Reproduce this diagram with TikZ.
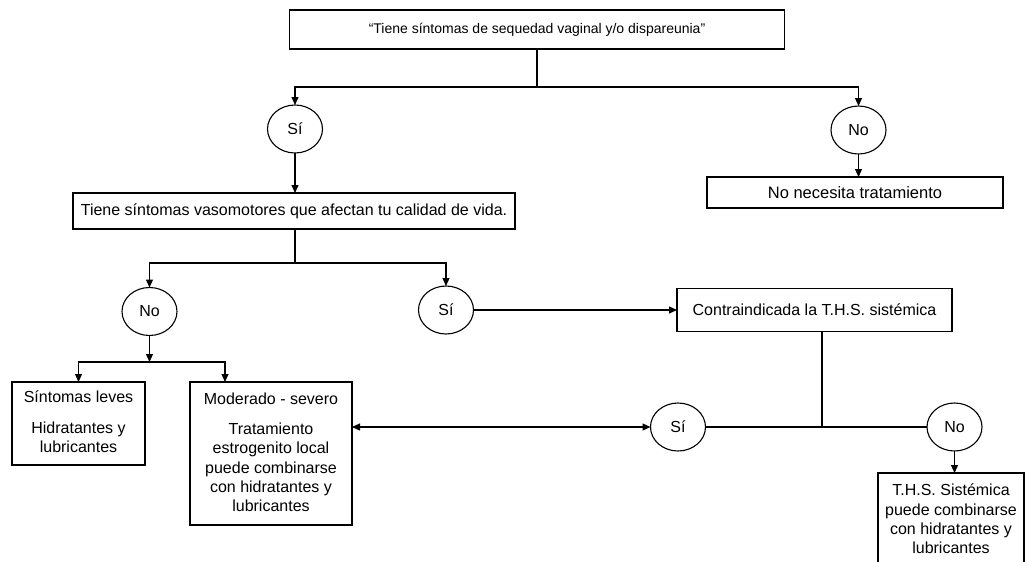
\documentclass[tikz,border=0pt]{standalone}
\usepackage{fontspec}
\setmainfont{Liberation Sans}
\usetikzlibrary{shapes.geometric,arrows.meta}
\begin{document}
\begin{tikzpicture}[x=1pt,y=-1pt,
  every node/.style={font=\fontsize{16}{19.3}\selectfont, inner sep=0pt, outer sep=0pt},
  box/.style={draw, line width=1.1pt, rectangle},
  oval/.style={draw, line width=1.1pt, ellipse, minimum width=55pt, minimum height=48pt},
  txt/.style={align=center, anchor=north},
  conn/.style={line width=1.1pt},
  arr/.style={line width=1.1pt, -{Triangle[length=8pt,width=7pt]}},
  darr/.style={line width=1.1pt, {Triangle[length=8pt,width=7pt]}-{Triangle[length=8pt,width=7pt]}}
]
\useasboundingbox (0,0) rectangle (1025,562);
\clip (0,0) rectangle (1025,562);

% boxes
\node[box, minimum width=495pt, minimum height=39pt, font=\fontsize{14}{17}\selectfont] (top) at (537,29.5) {“Tiene síntomas de sequedad vaginal y/o dispareunia”};
\node[box, minimum width=442pt, minimum height=36pt] (vaso) at (294,211) {Tiene síntomas vasomotores que afectan tu calidad de vida.};
\node[box, minimum width=296pt, minimum height=31pt, font=\fontsize{16.5}{20}\selectfont] (notrat) at (855,192.5) {No necesita tratamiento};
\node[box, minimum width=275pt, minimum height=43pt] (contra) at (814.5,310) {Contraindicada la T.H.S. sistémica};
\node[box, minimum width=133pt, minimum height=83pt] (leves) at (78.5,423.5) {};
\node[box, minimum width=162pt, minimum height=143pt] (mod) at (271,453.5) {};
\node[box, minimum width=146pt, minimum height=127pt] (ths) at (951,536.5) {};

% box texts
\node[txt] (levesA) at (78.5,391) {Síntomas leves};
\node[txt] (levesB) at (78.5,421.5) {Hidratantes y\\lubricantes};
\node[txt] (modA) at (271,393) {Moderado - severo};
\node[txt] (modB) at (271,423) {Tratamiento\\estrogenito local\\puede combinarse\\con hidratantes y\\lubricantes};
\node[txt] (thsA) at (951,484) {T.H.S. Sistémica\\puede combinarse\\con hidratantes y\\lubricantes};

% ovals
\node[oval] (si1) at (295,129) {Sí};
\node[oval] (no1) at (858.5,130) {No};
\node[oval] (no2) at (149.5,311.5) {No};
\node[oval] (si2) at (446,310) {Sí};
\node[oval] (si3) at (678,427) {Sí};
\node[oval] (no3) at (954.5,427) {No};

% junction coordinates
\coordinate (j1) at (537,87);
\coordinate (j2) at (295,263);
\coordinate (j3) at (822,427);
\coordinate (j4) at (149.5,362);
\coordinate (m1) at (225,382);

% connectors
\draw[conn] (top.south) -- (j1);
\draw[arr] (j1) -| (si1.north);
\draw[arr] (j1) -| (no1.north);
\draw[arr] (si1.south) -- (si1.south |- vaso.north);
\draw[arr] (no1.south) -- (no1.south |- notrat.north);
\draw[conn] (vaso.south -| j2) -- (j2);
\draw[arr] (j2) -| (no2.north);
\draw[arr] (j2) -| (si2.north);
\draw[arr] (si2.east) -- (si2.east -| contra.west);
\draw[arr] (no2.south) -- (j4);
\draw[arr] (j4) -| (leves.north);
\draw[arr] (j4) -| (m1);
\draw[conn] (contra.south -| j3) -- (j3);
\draw[conn] (si3.east) -- (no3.west);
\draw[arr] (no3.south) -- (no3.south |- ths.north);
\draw[darr] (si3.west -| mod.east) -- (si3.west);
\end{tikzpicture}
\end{document}
